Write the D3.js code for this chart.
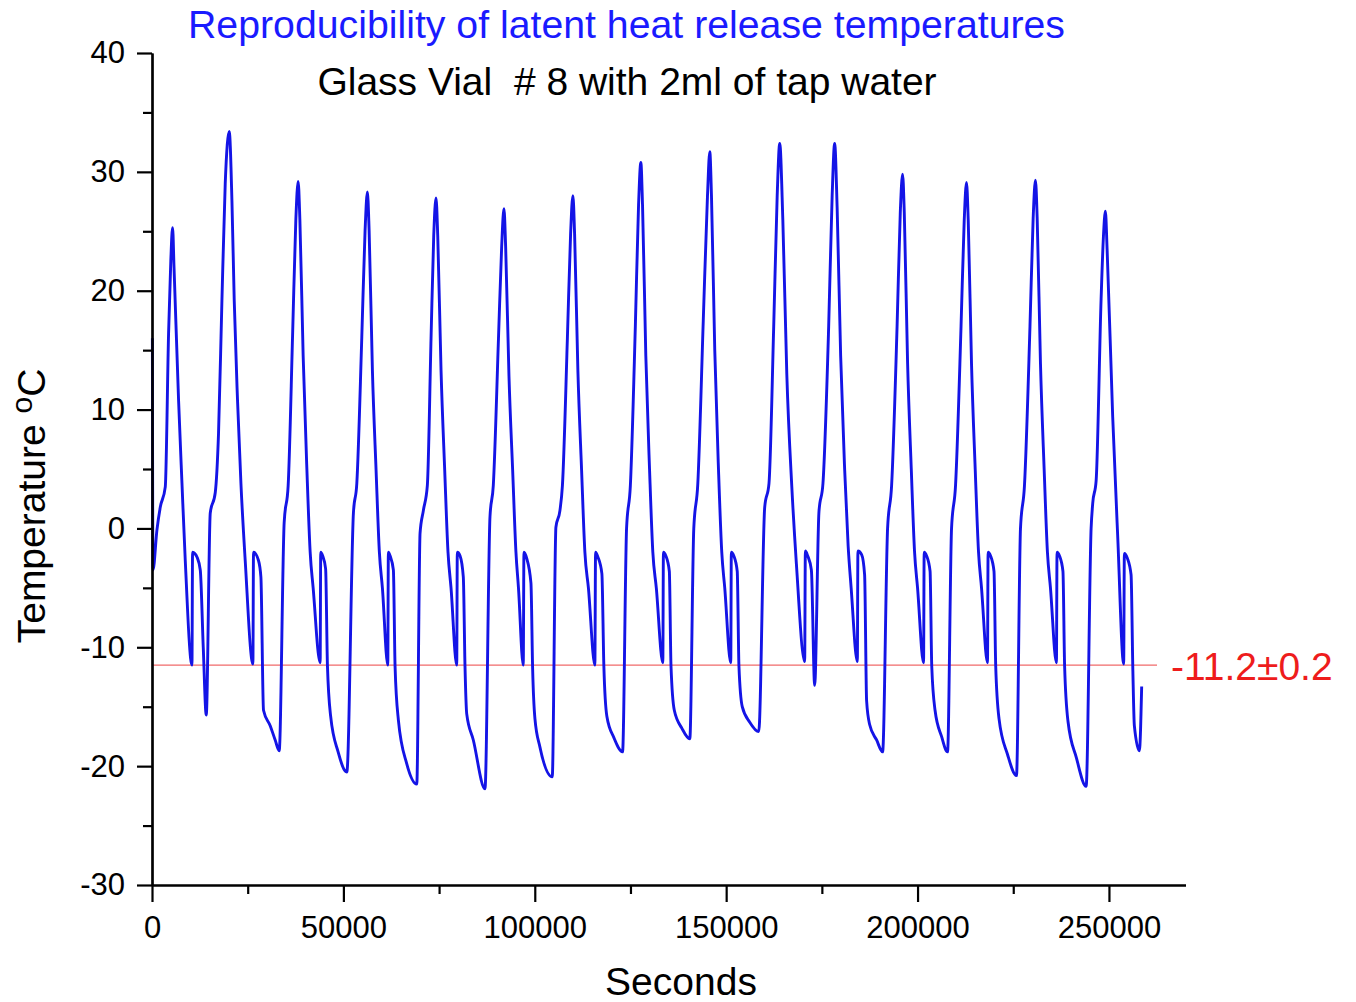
<!DOCTYPE html>
<html>
<head>
<meta charset="utf-8">
<script src="https://cdn.jsdelivr.net/npm/d3@7"></script>
<style>
  body { margin: 0; background: #fff; }
  svg { display: block; font-family: "Liberation Sans", Arial, Helvetica, sans-serif; }
</style>
</head>
<body>
<svg id="chart" width="1356" height="1002"></svg>
<script>
// ---- data ----
const titleText = "Reproducibility of latent heat release temperatures";
const subtitleText = "Glass Vial  # 8 with 2ml of tap water";
const xLabel = "Seconds";
const yLabel = "Temperature ";
const xMajorTicks = [0, 50000, 100000, 150000, 200000, 250000];
const xMinorTicks = [25000, 75000, 125000, 175000, 225000];
const yMajorTicks = [-30, -20, -10, 0, 10, 20, 30, 40];
const yMinorTicks = [-25, -15, -5, 5, 15, 25, 35];
const refLevel = -11.5;               // drawn position of the red reference line
const refLabel = "-11.2\u00B10.2";

// [seconds, temperature °C]
const trace = [
  [100, 16.0], [250, -3.5], [1300, -0.1], [2170, 1.8], [3470, 3.5], [4330, 16.4], [4910, 22.5],
  [5380, 25.3], [5750, 22.0], [6940, 10.8], [7830, 3.8], [8690, -2.7], [10440, -11.5],
  [10600, -2.0], [11170, -2.1], [11750, -2.4], [12610, -3.5], [13390, -10.0], [14170, -15.7],
  [15220, 1.3], [16520, 3.0], [17380, 8.0], [18270, 19.2], [19130, 29.0], [20180, 33.4], [20880, 27.6],
  [21480, 19.2], [22340, 10.8], [23230, 3.8], [24350, -2.7], [26360, -11.4], [26520, -2.0], [27820, -2.7],
  [28450, -4.1], [29130, -15.3], [30880, -16.6], [32180, -17.8], [33230, -18.7],
  [34530, 0.5], [35570, 3.6], [36750, 16.5], [37580, 26.0], [38180, 29.2], [38630, 26.0], [39490, 14.5],
  [40460, 5.0], [41320, -2.0], [42100, -5.0], [43930, -11.3], [44080, -2.0], [44580, -2.3], [45360, -3.4],
  [45830, -11.5], [46670, -15.8], [48620, -18.8], [50900, -20.5],
  [52620, 1.3], [53510, 3.8], [54810, 16.1], [55670, 25.1], [56270, 28.3], [56720, 25.1], [57580, 13.3],
  [58540, 4.9], [59400, -2.0], [60190, -5.0], [61600, -11.5], [61750, -2.0], [62200, -2.3], [63060, -3.5],
  [63500, -11.6], [64360, -16.1], [66560, -19.8], [69170, -21.5],
  [70030, -0.4], [70890, 1.5], [71930, 3.6], [72900, 16.0], [73600, 24.6], [74200, 27.8], [74650, 24.6],
  [75510, 13.3], [76470, 4.9], [77330, -2.0], [78120, -5.0], [79610, -11.5], [79760, -2.0], [80470, -2.3],
  [81330, -4.1], [81770, -11.6], [82220, -15.6], [83940, -17.8], [86990, -21.9],
  [88300, 1.0], [89160, 3.6], [90520, 16.0], [91350, 23.7], [91950, 26.9], [92390, 23.7], [93260, 12.8],
  [94220, 4.9], [95080, -2.0], [95740, -5.0], [96990, -11.5], [97170, -2.0], [97880, -2.5], [99000, -4.6],
  [99440, -11.8], [100040, -16.0], [101350, -18.4], [104560, -20.9],
  [105520, 0.1], [106570, 1.5], [107220, 3.6], [108520, 16.0], [109360, 24.8], [109960, 28.0], [110400, 24.8],
  [111260, 13.3], [112230, 4.9], [113090, -2.0], [114010, -5.0], [115700, -11.5], [115880, -2.0], [116480, -2.4],
  [117530, -3.8], [118050, -11.6], [118830, -15.8], [120660, -17.6], [122930, -18.8],
  [123980, 0.0], [124970, 3.6], [126270, 17.0], [127110, 27.2], [127710, 30.8], [128150, 27.2], [129010, 14.5],
  [129980, 5.0], [130840, -2.0], [131750, -5.0], [133450, -11.3], [133610, -2.0], [134230, -2.3], [135150, -3.6],
  [135590, -11.6], [136450, -15.3], [138410, -16.8], [140500, -17.7],
  [141540, 0.0], [142580, 3.7], [144020, 17.5], [145120, 28.0], [145720, 31.7], [146160, 28.0], [147020, 15.0],
  [147990, 5.0], [148850, -2.0], [149630, -5.0], [151200, -11.3], [151350, -2.0], [151980, -2.3], [152890, -3.6],
  [153340, -11.6], [154200, -15.0], [156160, -16.3], [158510, -17.1],
  [160070, 1.8], [161190, 3.8], [162420, 17.0], [163330, 28.0], [163990, 32.4], [164800, 26.0], [165840, 13.0],
  [167150, 3.5], [168350, -3.0], [170510, -11.2], [170690, -1.9], [171290, -2.3], [172260, -3.5], [173120, -13.2],
  [174240, 1.4], [175290, 3.8], [176780, 17.0], [177690, 28.0], [178340, 32.4], [178990, 27.0], [179910, 14.5],
  [180950, 5.0], [181870, -1.5], [182650, -5.0], [184270, -11.2], [184420, -1.9], [185390, -2.2], [186170, -3.9],
  [186690, -14.5], [187480, -16.5], [189300, -17.8], [190870, -18.8],
  [192170, 0.0], [193220, 3.6], [194650, 17.0], [195490, 26.6], [196090, 29.8], [196530, 26.6], [197390, 14.0],
  [198360, 5.0], [199220, -2.0], [200000, -5.0], [201570, -11.3], [201730, -2.0], [202350, -2.3], [203270, -3.6],
  [203710, -11.6], [204570, -15.3], [206270, -17.5], [207830, -18.8],
  [208880, 0.0], [209920, 3.6], [211360, 17.0], [212190, 25.9], [212790, 29.1], [213240, 25.9], [214100, 13.8],
  [215060, 5.0], [215930, -2.0], [216710, -5.0], [218270, -11.3], [218430, -2.0], [219060, -2.3], [219970, -3.6],
  [220420, -11.6], [221280, -16.0], [223490, -19.0], [225840, -20.8],
  [226890, 0.0], [227930, 3.6], [229370, 17.0], [230200, 26.1], [230800, 29.3], [231250, 26.1], [232110, 13.9],
  [233070, 5.0], [233930, -2.0], [234720, -5.0], [236280, -11.3], [236440, -2.0], [237070, -2.3], [237980, -3.6],
  [238420, -11.6], [239290, -16.2], [241500, -19.3], [244040, -21.7],
  [245340, 0.0], [245760, 2.1], [246650, 4.0], [247950, 19.3], [248550, 24.5], [249070, 26.7], [249520, 23.5],
  [250980, 9.4], [252280, -0.6], [253850, -11.4], [254030, -2.1], [254810, -2.5], [255780, -3.9], [256250, -12.0],
  [256640, -16.6], [257950, -18.7], [258550, -13.3]
];

// ---- drawing ----
const svg = d3.select("#chart");
svg.append("rect").attr("width", 1356).attr("height", 1002).attr("fill", "#fff");

const x = d3.scaleLinear().domain([0, 270000]).range([152, 1185.5]);
const y = d3.scaleLinear().domain([-30, 40]).range([885, 53]);

// reference line
svg.append("line")
  .attr("x1", x(0)).attr("x2", 1157)
  .attr("y1", y(refLevel)).attr("y2", y(refLevel))
  .attr("stroke", "#f06a6a").attr("stroke-width", 1.2);

svg.append("text")
  .attr("x", 1171).attr("y", y(refLevel) + 15)
  .attr("fill", "#ee1c1c").attr("font-size", 39)
  .text(refLabel);

// data line
const line = d3.line().x(d => x(d[0])).y(d => y(d[1])).curve(d3.curveMonotoneX);
svg.append("path")
  .datum(trace)
  .attr("d", line)
  .attr("fill", "none")
  .attr("stroke", "#1414e6")
  .attr("stroke-width", 2.9)
  .attr("stroke-linejoin", "round");

// axes
function styleAxis(g) {
  g.selectAll("path.domain").attr("stroke", "#000").attr("stroke-width", 2.2);
  g.selectAll(".tick line").attr("stroke", "#000").attr("stroke-width", 2.2);
  g.selectAll(".tick text").attr("fill", "#000").attr("font-size", 31)
    .attr("font-family", "'Liberation Sans', Arial, Helvetica, sans-serif");
}
const plainFmt = d => String(d);

const yMinorG = svg.append("g").attr("transform", `translate(${x(0)},0)`)
  .call(d3.axisLeft(y).tickValues(yMinorTicks).tickSize(9).tickSizeOuter(0).tickFormat(""));
styleAxis(yMinorG);
const yG = svg.append("g").attr("transform", `translate(${x(0)},0)`)
  .call(d3.axisLeft(y).tickValues(yMajorTicks).tickSize(15).tickSizeOuter(0).tickPadding(12).tickFormat(plainFmt));
styleAxis(yG);

const xMinorG = svg.append("g").attr("transform", `translate(0,${y(-30)})`)
  .call(d3.axisBottom(x).tickValues(xMinorTicks).tickSize(9).tickSizeOuter(0).tickFormat(""));
styleAxis(xMinorG);
const xG = svg.append("g").attr("transform", `translate(0,${y(-30)})`)
  .call(d3.axisBottom(x).tickValues(xMajorTicks).tickSize(17).tickSizeOuter(0).tickPadding(14).tickFormat(plainFmt));
styleAxis(xG);

// titles
svg.append("text")
  .attr("x", 626.5).attr("y", 38).attr("text-anchor", "middle")
  .attr("fill", "#1a1aff").attr("font-size", 39)
  .attr("textLength", 877).attr("lengthAdjust", "spacingAndGlyphs")
  .text(titleText);

svg.append("text")
  .attr("x", 627).attr("y", 95).attr("text-anchor", "middle")
  .attr("fill", "#000").attr("font-size", 39)
  .style("white-space", "pre")
  .text(subtitleText);

svg.append("text")
  .attr("x", 681).attr("y", 995).attr("text-anchor", "middle")
  .attr("fill", "#000").attr("font-size", 39)
  .text(xLabel);

const yl = svg.append("text")
  .attr("transform", "translate(45,506) rotate(-90)")
  .attr("text-anchor", "middle")
  .attr("fill", "#000").attr("font-size", 39)
  .style("white-space", "pre");
yl.append("tspan").text(yLabel);
yl.append("tspan").attr("font-size", 30).attr("dy", -13).text("o");
yl.append("tspan").attr("dy", 13).text("C");
</script>
</body>
</html>
